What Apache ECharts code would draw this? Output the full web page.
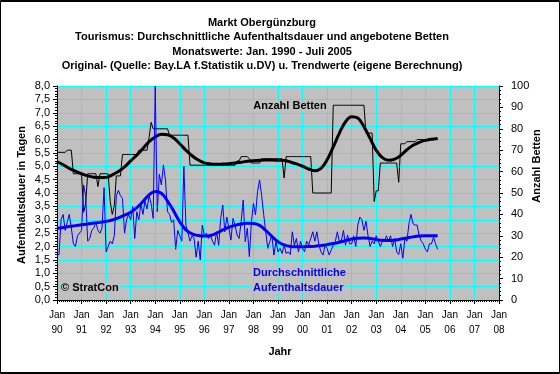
<!DOCTYPE html>
<html><head><meta charset="utf-8">
<script src="https://cdn.jsdelivr.net/npm/echarts@6/dist/echarts.min.js"></script>
<style>html,body{margin:0;padding:0;background:#fff}#c{width:560px;height:374px}</style>
</head><body><div id="c"></div>
<script>
// ---------- data ----------
const titleLines = [
  'Markt Obergünzburg',
  'Tourismus: Durchschnittliche Aufenthaltsdauer und angebotene Betten',
  'Monatswerte: Jan. 1990 - Juli 2005',
  'Original- (Quelle: Bay.LA f.Statistik u.DV) u. Trendwerte (eigene Berechnung)'
];
const startYear = 1990;          // first month = Jan 1990
const trendStep = 3;             // trend values are read every 3 months
const xTickYears = [1990, 2008];
const leftTicks = [0, 8, 0.5];
const rightTicks = [0, 100, 10];

// Anzahl Betten, original monthly values (Jan 1990 - Jul 2005)
const bettenOriginal = [
  69,69,69,69,69,70,70,70,59,59,59,59,
  59,41,45,59,59,59,59,59,53,59,59,59,
  59,59,46,40,44,58,58,58,68,68,68,68,
  68,68,68,68,70,70,70,70,70,76,83,80,
  80,80,80,80,80,80,80,77,77,77,77,77,
  77,77,77,77,77,63,63,63,63,63,63,63,
  63,63,63,63,63,63,63,63,63,63,63,63,
  63,63,63,63,65,65,67,67,67,67,66,64,
  64,64,64,64,66,66,66,66,66,66,66,66,
  66,66,66,57,67,67,67,67,67,67,67,67,
  67,67,67,67,67,50,50,50,50,50,50,50,
  50,50,50,91,91,91,91,91,91,91,91,91,
  91,91,91,91,91,91,91,78,78,78,78,46,
  51,51,64,64,64,64,64,64,64,64,64,55,
  73,73,73,74,74,74,74,74,75,75,75,75,
  75,75,75,75,75,75,75
];
// Anzahl Betten, trend (every 3 months)
const bettenTrend = [
  64.6,63.2,61.5,60.2, 59.0,58.0,57.4,57.2, 57.3,58.5,60.0,62.2,
  65.0,67.7,70.8,74.0, 76.2,77.4,77.2,75.7, 73.0,70.0,67.4,65.4,
  64.1,63.6,63.4,63.5, 63.7,64.0,64.4,64.8, 65.1,65.3,65.4,65.4,
  65.3,65.2,64.5,63.6, 62.5,61.2,60.4,61.5, 65.5,71.5,78.0,83.3,
  85.6,85.0,81.0,75.5, 70.0,66.5,65.3,65.8, 67.6,70.2,72.3,73.7,
  74.6,75.1,75.5
];
// Durchschnittliche Aufenthaltsdauer (Tage), original monthly values
const dauerOriginal = [
  1.7,1.7,3.0,3.2,2.6,2.9,3.2,2.7,2.1,2.0,2.4,2.5,
  2.6,4.3,3.9,2.2,2.3,2.6,2.7,2.9,2.6,2.5,2.7,4.2,
  1.8,2.0,2.2,2.1,2.4,3.9,4.1,3.9,3.8,2.5,3.0,3.2,
  3.0,3.5,2.3,3.3,3.0,3.6,3.2,3.7,3.4,3.9,3.6,3.05,
  8.0,3.3,4.7,4.3,5.05,4.5,3.3,3.2,2.9,3.0,1.9,2.6,
  2.4,2.2,5.0,2.8,2.5,2.2,2.4,2.3,1.6,2.2,1.5,2.8,
  2.4,2.5,2.3,2.4,2.2,2.05,2.55,2.05,3.05,3.55,2.55,3.1,
  2.68,2.24,3.05,2.8,2.43,2.3,2.93,3.74,2.18,2.68,1.62,2.9,
  3.61,3.18,4.05,4.49,3.9,3.2,2.55,1.93,2.18,2.43,1.68,2.18,
  1.8,1.93,1.74,2.05,1.74,1.8,1.7,2.55,2.05,2.3,1.8,2.2,
  1.93,1.8,2.2,2.05,2.3,2.55,2.2,2.55,2.05,1.8,1.68,2.05,
  1.93,1.68,1.87,2.05,2.18,2.55,2.18,2.24,2.6,2.05,2.43,2.1,
  2.1,2.4,2.0,2.8,3.1,3.0,2.6,2.95,2.4,2.0,2.2,2.1,
  2.4,2.2,2.0,2.2,2.2,2.4,2.2,2.4,2.0,2.3,1.8,1.7,
  2.1,1.56,2.3,2.2,2.85,3.2,2.85,2.8,2.8,2.4,2.2,2.1,
  1.9,1.8,2.1,2.1,2.35,2.1,1.9
];
// Durchschnittliche Aufenthaltsdauer, trend (every 3 months)
const dauerTrend = [
  2.68,2.71,2.75,2.78, 2.81,2.84,2.88,2.91, 2.94,2.99,3.07,3.17,
  3.28,3.45,3.68,3.93, 4.06,3.99,3.70,3.33, 2.92,2.62,2.47,2.41,
  2.39,2.41,2.50,2.62, 2.72,2.79,2.84,2.87, 2.86,2.79,2.60,2.38,
  2.18,2.06,2.00,1.99, 1.99,2.00,2.01,2.04, 2.07,2.11,2.16,2.22,
  2.28,2.31,2.32,2.30, 2.26,2.23,2.22,2.24, 2.28,2.32,2.36,2.39,
  2.40,2.40,2.40
];

// ---------- build ----------
const FONT = 'Arial, "Liberation Sans", sans-serif';
const monthly = arr => arr.map((v, i) => [startYear + i / 12, v]);
const stepped = arr => arr.map((v, i) => [startYear + i * trendStep / 12, v]);
const fmtComma = v => v.toFixed(1).replace('.', ',');

const chart = echarts.init(document.getElementById('c'), null, {renderer: 'canvas'});
const axisCommon = {
  axisLine: {show: true, lineStyle: {color: '#000', width: 1}},
  axisTick: {show: true, length: 4, lineStyle: {color: '#000'}},
};
const txt = (text, x, y, opts) => Object.assign({
  type: 'text', x, y, silent: true, z: 100,
  style: Object.assign({text, fill: '#000', font: 'bold 11px ' + FONT,
    textAlign: 'center', textVerticalAlign: 'middle', align: 'center', verticalAlign: 'middle'}, opts && opts.style || {})
}, opts && opts.el || {});
const inPlot = {backgroundColor: '#c0c0c0', padding: [0, 1, 0, 1]};

const graphics = [
  {type: 'rect', silent: true, z: 100, shape: {x: 0.5, y: 0.5, width: 559, height: 373},
   style: {fill: 'none', stroke: '#000', lineWidth: 1}},
  {type: 'line', silent: true, z: 100, shape: {x1: 0, y1: 1.5, x2: 560, y2: 1.5},
   style: {stroke: '#000', lineWidth: 1}},
  {type: 'line', silent: true, z: 100, shape: {x1: 0, y1: 372.5, x2: 560, y2: 372.5},
   style: {stroke: '#000', lineWidth: 1}},
];
const titleY = [23, 37, 52, 66];
titleLines.forEach((t, i) => graphics.push(txt(t, 262, titleY[i])));
graphics.push(txt('Aufenthaltsdauer in Tagen', 22, 195, {el: {rotation: Math.PI / 2}}));
graphics.push(txt('Anzahl Betten', 537, 166, {el: {rotation: Math.PI / 2}}));
graphics.push(txt('Jahr', 280, 352));
graphics.push(txt('Anzahl Betten', 290, 106, {style: inPlot}));
graphics.push(txt('Durchschnittliche', 252, 273, {style: Object.assign({fill: '#0000ff', textAlign: 'left', align: 'left'}, inPlot)}));
graphics.push(txt('Aufenthaltsdauer', 252, 288, {style: Object.assign({fill: '#0000ff', textAlign: 'left', align: 'left'}, inPlot)}));
graphics.push(txt('© StratCon', 60, 288, {style: Object.assign({textAlign: 'left', align: 'left'}, inPlot)}));

chart.setOption({
  animation: false,
  backgroundColor: '#ffffff',
  textStyle: {fontFamily: FONT},
  grid: {left: 57, right: 61, top: 86, bottom: 74, show: true, backgroundColor: '#c0c0c0', borderWidth: 0},
  xAxis: Object.assign({
    type: 'value', min: xTickYears[0], max: xTickYears[1], interval: 1,
    minorTick: {show: true, splitNumber: 12, length: 2, lineStyle: {color: '#000'}},
    axisLabel: {formatter: v => 'Jan\n' + String(v % 100).padStart(2, '0'),
      color: '#000', fontSize: 10, lineHeight: 15, margin: 8, fontFamily: FONT},
    splitLine: {show: true, lineStyle: {color: '#00ffff', width: 1}}
  }, axisCommon),
  yAxis: [
    Object.assign({
      type: 'value', position: 'left', min: leftTicks[0], max: leftTicks[1], interval: leftTicks[2],
      minorTick: {show: true, splitNumber: 5, length: 2, lineStyle: {color: '#000'}},
      axisLabel: {formatter: fmtComma, color: '#000', fontSize: 11, margin: 7, fontFamily: FONT},
      splitLine: {show: true, lineStyle: {color: '#00ffff', width: 1}}
    }, axisCommon),
    Object.assign({
      type: 'value', position: 'right', min: rightTicks[0], max: rightTicks[1], interval: rightTicks[2],
      minorTick: {show: true, splitNumber: 5, length: 2, lineStyle: {color: '#000'}},
      axisLabel: {color: '#000', fontSize: 11, margin: 12, fontFamily: FONT},
      splitLine: {show: false}
    }, axisCommon)
  ],
  series: [
    {type: 'line', name: 'Betten Original', yAxisIndex: 1, data: monthly(bettenOriginal),
     symbol: 'none', lineStyle: {color: '#000', width: 1}, z: 2},
    {type: 'line', name: 'Betten Trend', yAxisIndex: 1, data: stepped(bettenTrend),
     symbol: 'none', smooth: 0.4, lineStyle: {color: '#000', width: 3}, z: 3},
    {type: 'line', name: 'Dauer Original', yAxisIndex: 0, data: monthly(dauerOriginal),
     symbol: 'none', lineStyle: {color: '#0000ff', width: 1}, z: 4},
    {type: 'line', name: 'Dauer Trend', yAxisIndex: 0, data: stepped(dauerTrend),
     symbol: 'none', smooth: 0.4, lineStyle: {color: '#0000ff', width: 3}, z: 5}
  ],
  graphic: graphics
});
</script></body></html>
